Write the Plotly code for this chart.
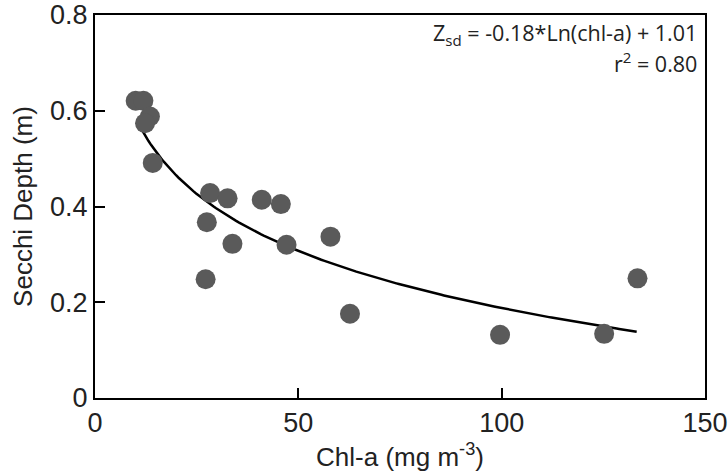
import numpy as np
import plotly.graph_objects as go

# Secchi depth vs chlorophyll-a
chl_a = [10.0, 11.9, 13.5, 12.3, 14.2, 28.3, 32.6, 41.0, 45.7, 27.5, 33.8, 47.1,
         57.9, 27.2, 62.7, 99.6, 125.2, 133.4]
secchi = [0.621, 0.621, 0.588, 0.574, 0.491, 0.428, 0.417, 0.414, 0.405, 0.367,
          0.322, 0.320, 0.337, 0.248, 0.176, 0.132, 0.134, 0.250]

# fitted log curve
fit_a = -0.172
fit_b = 0.98
fit_x = np.linspace(10.7, 133.2, 200)
fit_y = fit_a * np.log(fit_x) + fit_b

font = "Liberation Sans, Arial"
ann_font = dict(family="Open Sans", size=21.5, color="#222")

fig = go.Figure()
fig.add_trace(go.Scatter(x=fit_x, y=fit_y, mode="lines",
                         line=dict(color="black", width=2.5)))
fig.add_trace(go.Scatter(x=chl_a, y=secchi, mode="markers",
                         marker=dict(size=20, color="#5a5a5a", line=dict(width=0))))

fig.add_annotation(xref="paper", yref="paper", x=0.99, y=0.95, yanchor="middle",
                   xanchor="right", showarrow=False, font=ann_font,
                   text="Z<sub>sd</sub> = -0.18*Ln(chl-a) + 1.01")
fig.add_annotation(xref="paper", yref="paper", x=0.99, y=0.875, yanchor="middle",
                   xanchor="right", showarrow=False, font=ann_font,
                   text="r<sup>2</sup> = 0.80")

axis_style = dict(showgrid=False, zeroline=False, showline=True, linecolor="black",
                  linewidth=2, mirror=True, ticks="inside", ticklen=10, tickwidth=2,
                  tickcolor="black", automargin=False, ticklabeloverflow="allow",
                  tickfont=dict(family=font, size=27, color="#222"))

fig.update_xaxes(range=[0, 150], dtick=50, **axis_style,
                 title=dict(text="Chl-a (mg m<sup>-3</sup>)", standoff=10,
                            font=dict(family=font, size=26, color="#222")))
fig.update_yaxes(range=[0, 0.8], dtick=0.2, **axis_style,
                 title=dict(text="Secchi Depth (m)", standoff=10,
                            font=dict(family=font, size=26, color="#222")))

fig.update_layout(width=728, height=473, showlegend=False,
                  plot_bgcolor="white", paper_bgcolor="white",
                  margin=dict(l=95, r=23, t=15, b=75))

# drop the default body margin so the figure fills the window
fig.write_html("out.html", config={"displayModeBar": False},
               post_script="document.body.style.margin='0';document.body.style.overflow='hidden';")
